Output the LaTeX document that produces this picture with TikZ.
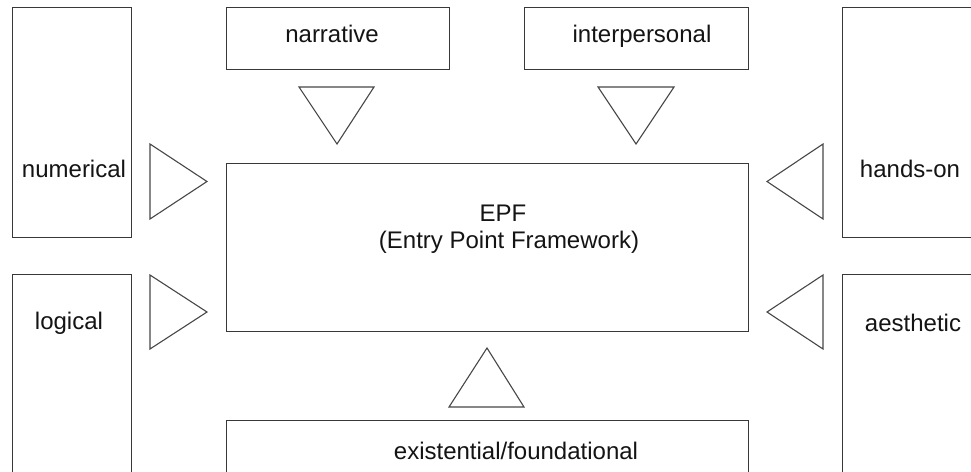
\documentclass[tikz,border=0pt]{standalone}
\usepackage{fontspec}
\setmainfont{Liberation Sans}
\begin{document}
\begin{tikzpicture}[x=1pt,y=-1pt,
  frame/.style={draw=black!78,line width=1.4pt,inner sep=0pt,anchor=north west},
  lbl/.style={inner sep=0pt,anchor=base,font=\fontsize{24}{27}\selectfont,text=black!92},
  tri/.style={draw=black!72,line width=1.1pt,line join=miter}]
  % page area
  \fill[white] (0,0) rectangle (971,471);
  \useasboundingbox (0,0) rectangle (971,471);
  \clip (0,0) rectangle (971,471);

  % outer boxes (some run past the page edge)
  \node[frame,minimum width=119pt,minimum height=230pt] (numerical) at (12,7) {};
  \node[frame,minimum width=119pt,minimum height=230pt] (logical) at (12,274) {};
  \node[frame,minimum width=223pt,minimum height=62pt] (narrative) at (226,7) {};
  \node[frame,minimum width=224pt,minimum height=62pt] (interpersonal) at (524,7) {};
  \node[frame,minimum width=160pt,minimum height=230pt] (handson) at (842,7) {};
  \node[frame,minimum width=160pt,minimum height=230pt] (aesthetic) at (842,274) {};
  \node[frame,minimum width=522pt,minimum height=168pt] (epf) at (226,163) {};
  \node[frame,minimum width=522pt,minimum height=80pt] (existential) at (226,420) {};

  % labels
  \node[lbl] (numerical-t) at (74,177) {numerical};
  \node[lbl] (logical-t) at (69,329) {logical};
  \node[lbl] (narrative-t) at (332,42) {narrative};
  \node[lbl] (interpersonal-t) at (642,42) {interpersonal};
  \node[lbl] (handson-t) at (910,177) {hands-on};
  \node[lbl] (aesthetic-t) at (913,331) {aesthetic};
  \node[lbl] (epf-t1) at (503,221) {EPF};
  \node[lbl] (epf-t2) at (509,248) {(Entry Point Framework)};
  \node[lbl] (existential-t) at (516,459) {existential/foundational};

  % triangular pointers toward the framework box
  \draw[tri] (299,87) -- (374,87) -- (337,144) -- cycle;
  \draw[tri] (598,87) -- (674,87) -- (636,144) -- cycle;
  \draw[tri] (150,144) -- (150,219) -- (207,181.5) -- cycle;
  \draw[tri] (150,275) -- (150,349) -- (207,312) -- cycle;
  \draw[tri] (823,144) -- (823,219) -- (767,181.5) -- cycle;
  \draw[tri] (823,275) -- (823,349) -- (767,312) -- cycle;
  \draw[tri] (449,407) -- (524,407) -- (487,348) -- cycle;
\end{tikzpicture}
\end{document}
